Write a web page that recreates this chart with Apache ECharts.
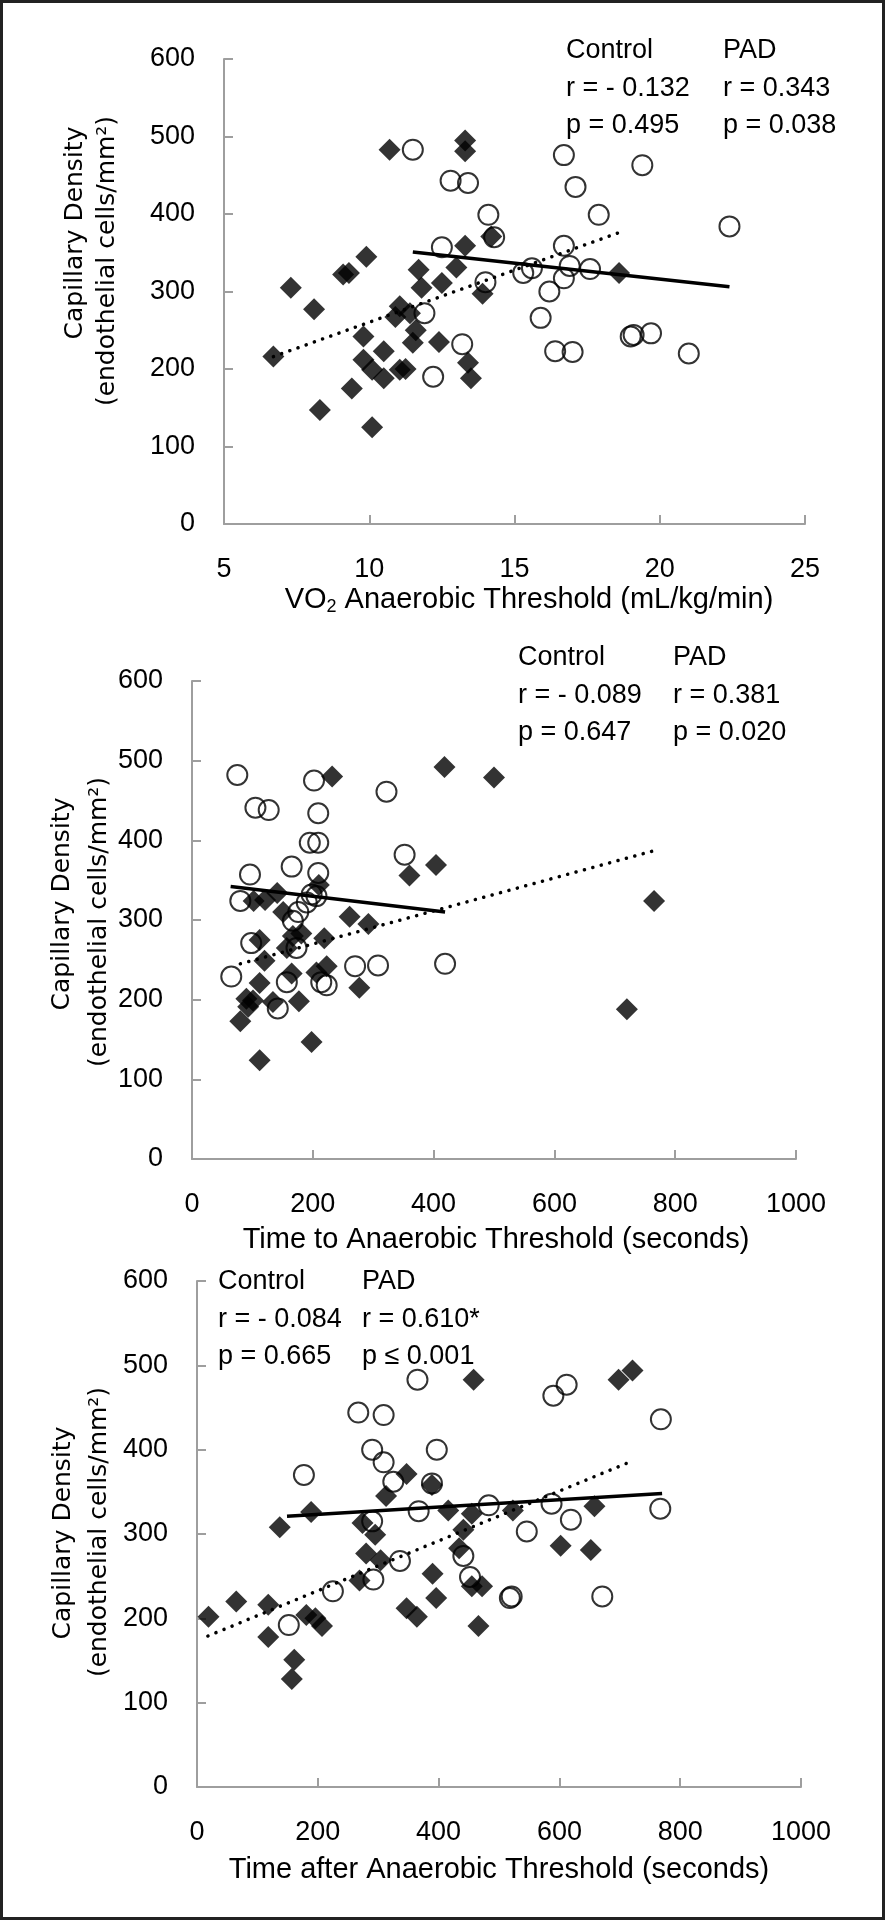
<!DOCTYPE html>
<html>
<head>
<meta charset="utf-8">
<script src="https://cdn.jsdelivr.net/npm/echarts@6/dist/echarts.min.js"></script>
<style>
html, body { margin: 0; padding: 0; background: #fff; }
#chart { width: 885px; height: 1920px; }
</style>
</head>
<body>
<div id="chart"></div>
<script>
// panel 1 - VO2 at anaerobic threshold vs capillary density
var vo2Control = [[11.5,483],[12.8,443],[13.4,440],[14.1,399],[14.3,370],[12.5,357],[14.0,312],[11.9,272],[13.2,232],[12.2,190],
    [16.7,476],[19.4,463],[17.1,435],[17.9,399],[22.4,384],[16.7,359],[15.3,324],[15.6,330],[16.9,333],[17.6,329],
    [16.7,317],[16.2,300],[15.9,266],[16.4,223],[17.0,222],[19.0,242],[19.1,244],[19.7,246],[21.0,220]];
var vo2Pad = [[10.7,483],[13.3,495],[13.3,481],[9.9,345],[9.1,322],[9.3,324],[7.3,305],[8.1,277],[6.7,216],[8.3,147],
    [10.1,125],[9.4,175],[9.8,242],[9.8,212],[10.1,199],[10.5,188],[10.5,223],[11.05,199],[11.25,200],[10.9,267],
    [11.05,281],[11.4,272],[11.6,250],[11.5,234],[11.7,328],[11.8,305],[12.5,311],[13.0,331],[13.3,359],[12.4,235],
    [13.4,208],[13.5,188],[13.9,297],[14.2,371],[18.6,324]];
var vo2ControlFit = [[11.5,351],[22.4,306]];
var vo2PadFit = [[6.7,216],[18.6,376]];
var vo2ControlStats = ['Control', 'r = - 0.132', 'p = 0.495'];
var vo2PadStats = ['PAD', 'r = 0.343', 'p = 0.038'];

// panel 2 - time to anaerobic threshold
var timeToControl = [[75,482],[105,441],[127,438],[202,475],[209,434],[195,397],[209,397],[322,461],[352,382],[96,357],
    [165,367],[209,359],[80,324],[198,332],[206,330],[190,322],[176,310],[167,299],[98,271],[173,265],
    [65,229],[157,222],[214,222],[223,218],[270,242],[308,243],[419,245],[142,189]];
var timeToPad = [[232,480],[418,492],[500,479],[404,369],[360,356],[210,344],[141,334],[102,324],[121,325],[151,310],
    [261,304],[292,295],[167,280],[181,283],[219,277],[112,275],[157,265],[120,249],[165,233],[223,242],
    [206,234],[277,215],[112,221],[90,201],[101,199],[93,191],[80,173],[134,197],[177,198],[198,147],
    [112,124],[765,324],[720,188]];
var timeToControlFit = [[64,342],[419,310]];
var timeToPadFit = [[80,245],[765,387]];
var timeToControlStats = ['Control', 'r = - 0.089', 'p = 0.647'];
var timeToPadStats = ['PAD', 'r = 0.381', 'p = 0.020'];

// panel 3 - time after anaerobic threshold
var timeAfterControl = [[365,483],[267,444],[309,441],[290,400],[309,385],[397,400],[177,370],[325,362],[389,360],[367,327],
    [483,334],[290,315],[336,268],[292,246],[441,274],[452,249],[225,232],[152,192],[518,224],[521,226],
    [612,477],[590,464],[768,436],[587,336],[619,317],[767,330],[546,303],[671,226]];
var timeAfterPad = [[458,483],[347,371],[389,358],[313,345],[189,326],[137,308],[274,313],[295,299],[416,328],[455,324],
    [441,305],[523,328],[434,283],[280,277],[304,269],[269,245],[390,253],[396,224],[455,238],[472,238],
    [347,212],[364,202],[466,191],[19,202],[65,220],[118,216],[118,178],[181,204],[196,200],[207,191],
    [161,151],[157,128],[721,494],[698,483],[658,333],[602,286],[652,281]];
var timeAfterControlFit = [[149,321],[770,348]];
var timeAfterPadFit = [[18,179],[722,387]];
var timeAfterControlStats = ['Control', 'r = - 0.084', 'p = 0.665'];
var timeAfterPadStats = ['PAD', 'r = 0.610*', 'p \u2264 0.001'];

var yTitle1 = 'Capillary Density';
var yTitle2 = '(endothelial cells/mm\u00b2)';

var txtFont = '"Liberation Sans", Arial, sans-serif';
var titleFont = '"DejaVu Sans", Verdana, sans-serif';

var myChart = echarts.init(document.getElementById('chart'));

function makeX(idx, min, max, step) {
    return {
        gridIndex: idx, type: 'value', min: min, max: max, interval: step,
        splitLine: { show: false },
        axisLine: { lineStyle: { color: '#9e9e9e', width: 2 } },
        axisTick: { inside: true, length: 9, lineStyle: { color: '#9e9e9e', width: 2 } },
        axisLabel: { margin: 32, color: '#000', fontSize: 27, fontFamily: txtFont,
            formatter: function (v) { return String(v); } }
    };
}
function makeY(idx) {
    return {
        gridIndex: idx, type: 'value', min: 0, max: 600, interval: 100,
        splitLine: { show: false },
        axisLine: { show: true, lineStyle: { color: '#9e9e9e', width: 2 } },
        axisTick: { show: true, inside: true, length: 9, lineStyle: { color: '#9e9e9e', width: 2 } },
        axisLabel: { margin: 29, color: '#000', fontSize: 27, fontFamily: txtFont }
    };
}
function panelSeries(idx, ctrl, pad, ctrlFit, padFit) {
    return [{
        type: 'scatter', xAxisIndex: idx, yAxisIndex: idx, data: ctrl,
        symbol: 'circle', symbolSize: 20,
        itemStyle: { color: 'rgba(0,0,0,0)', borderColor: '#000', borderWidth: 2 }
    }, {
        type: 'scatter', xAxisIndex: idx, yAxisIndex: idx, data: pad,
        symbol: 'diamond', symbolSize: 22,
        itemStyle: { color: '#000' }
    }, {
        type: 'line', xAxisIndex: idx, yAxisIndex: idx, data: ctrlFit,
        symbol: 'none', z: 5,
        lineStyle: { color: '#000', width: 3.5 }
    }, {
        type: 'line', xAxisIndex: idx, yAxisIndex: idx, data: padFit,
        symbol: 'none', z: 5,
        lineStyle: { color: '#000', width: 3.5, type: [0.1, 8.6], cap: 'round' }
    }];
}
function statText(lines, x, y0) {
    var out = [];
    for (var i = 0; i < lines.length; i++) {
        out.push({
            type: 'text', x: x, y: y0 + i * 37.5,
            style: { text: lines[i], fill: '#000', fontSize: 27, fontFamily: txtFont, align: 'left', verticalAlign: 'middle' }
        });
    }
    return out;
}
function yTitle(x1, y1, x2, y2) {
    return [{
        type: 'text', x: x1, y: y1, rotation: Math.PI / 2,
        style: { text: yTitle1, fill: '#000', fontSize: 25, fontFamily: titleFont, align: 'center', verticalAlign: 'middle' }
    }, {
        type: 'text', x: x2, y: y2, rotation: Math.PI / 2,
        style: { text: yTitle2, fill: '#000', fontSize: 25, fontFamily: titleFont, align: 'center', verticalAlign: 'middle' }
    }];
}
function xTitle(text, x, y) {
    return {
        type: 'text', x: x, y: y,
        style: {
            text: text, fill: '#000', fontSize: 29, fontFamily: txtFont, align: 'center', verticalAlign: 'middle',
            rich: { s: { fontSize: 18, fontFamily: txtFont, verticalAlign: 'bottom', padding: [14, 0, 0, 0] } }
        }
    };
}

var graphics = [{
    type: 'rect', shape: { x: 1.5, y: 1.5, width: 882, height: 1917 },
    style: { fill: 'none', stroke: '#222', lineWidth: 3 }
}];
graphics = graphics
    .concat(statText(vo2ControlStats, 566, 51)).concat(statText(vo2PadStats, 723, 51))
    .concat(statText(timeToControlStats, 518, 658)).concat(statText(timeToPadStats, 673, 658))
    .concat(statText(timeAfterControlStats, 218, 1282)).concat(statText(timeAfterPadStats, 362, 1282))
    .concat(yTitle(75, 233, 107, 261))
    .concat(yTitle(62, 904, 99, 922))
    .concat(yTitle(63, 1533, 99, 1532));
graphics.push(xTitle('VO{s|2} Anaerobic Threshold (mL/kg/min)', 529, 600));
graphics.push(xTitle('Time to Anaerobic Threshold (seconds)', 496, 1240));
graphics.push(xTitle('Time after Anaerobic Threshold (seconds)', 499, 1870));

var Option = {
    backgroundColor: '#fff',
    animation: false,
    grid: [
        { left: 224, top: 59, width: 581, height: 465 },
        { left: 192, top: 681, width: 604, height: 478 },
        { left: 197, top: 1281, width: 604, height: 506 }
    ],
    xAxis: [makeX(0, 5, 25, 5), makeX(1, 0, 1000, 200), makeX(2, 0, 1000, 200)],
    yAxis: [makeY(0), makeY(1), makeY(2)],
    series: []
        .concat(panelSeries(0, vo2Control, vo2Pad, vo2ControlFit, vo2PadFit))
        .concat(panelSeries(1, timeToControl, timeToPad, timeToControlFit, timeToPadFit))
        .concat(panelSeries(2, timeAfterControl, timeAfterPad, timeAfterControlFit, timeAfterPadFit)),
    graphic: graphics
};
myChart.setOption(Option);
</script>
</body>
</html>
